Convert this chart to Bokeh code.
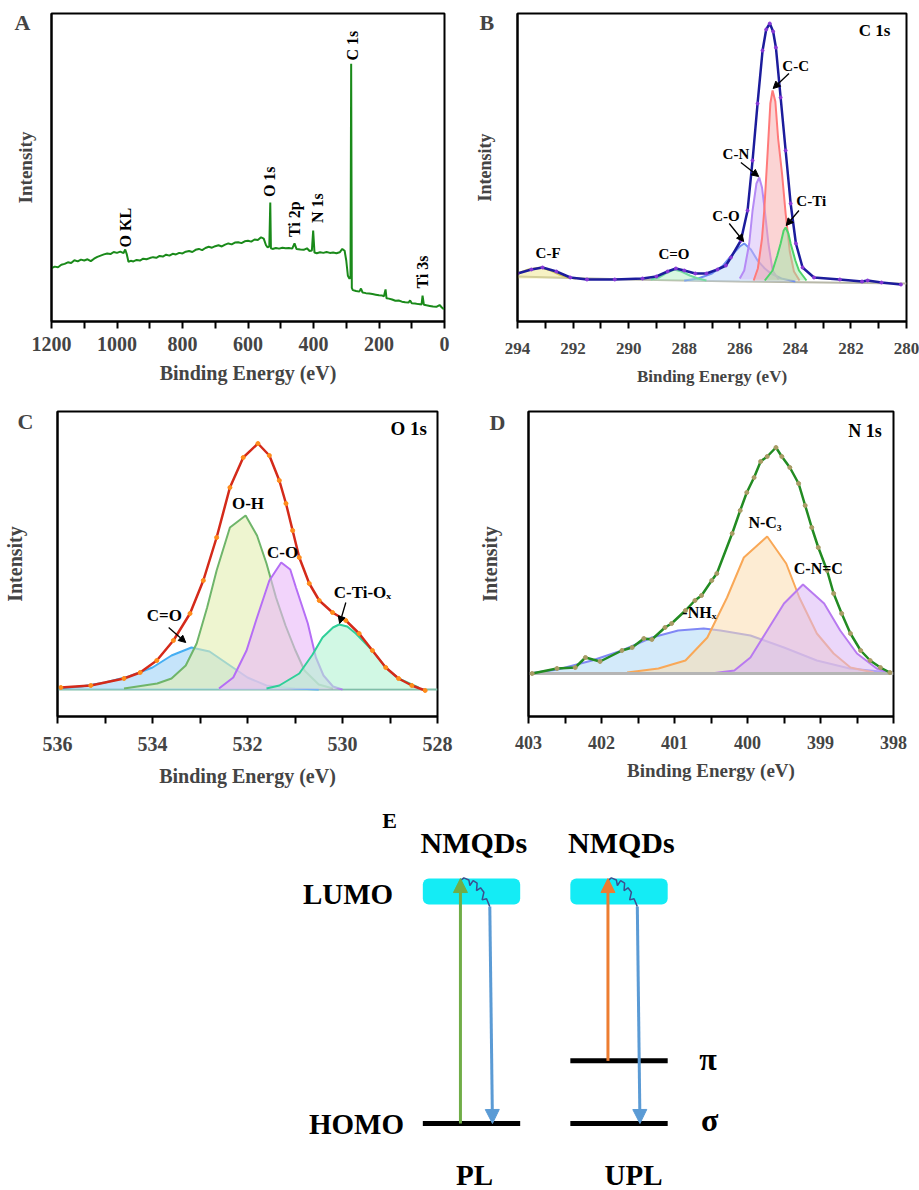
import math
from bokeh.plotting import figure
from bokeh.models import Range1d, FixedTicker, Label, Arrow, NormalHead
from bokeh.layouts import column, row
from bokeh.embed import file_html
from bokeh.resources import INLINE

FONT = "Liberation Serif"

# ---------------- Panel A : survey spectrum ----------------
A_energy = [1200, 1190, 1180, 1170, 1160, 1150, 1140, 1130, 1120, 1110, 1100, 1090, 1080, 1070, 1060,
            1050, 1040, 1030, 1020, 1010, 1000, 990, 980, 975, 970, 965, 958, 950, 940, 930, 920, 910,
            900, 890, 880, 870, 860, 850, 840, 830, 820, 810, 800, 790, 780, 770, 760, 750, 740, 730,
            720, 710, 700, 690, 680, 670, 660, 650, 640, 630, 620, 610, 600, 590, 580, 570, 560, 552,
            545, 540, 535, 532, 530, 525, 515, 505, 495, 485, 475, 465, 458, 452, 440, 430, 420, 412,
            405, 401, 397, 390, 380, 370, 360, 350, 340, 330, 320, 312, 305, 300, 295, 290, 287, 285,
            283, 280, 270, 260, 255, 250, 240, 230, 220, 210, 200, 190, 185, 180, 177, 170, 160, 150,
            140, 130, 120, 110, 105, 100, 90, 80, 70, 67, 63, 55, 45, 35, 25, 15, 8, 2]
A_intensity = [16.5, 17.0, 16.8, 17.6, 17.9, 18.4, 18.2, 19.1, 18.7, 19.3, 19.0, 19.4, 18.8, 19.6, 20.2,
               20.6, 21.0, 21.3, 21.1, 21.8, 21.5, 21.9, 21.4, 22.6, 21.0, 18.6, 18.9, 18.7, 19.2, 19.0,
               19.6, 19.4, 19.8, 20.1, 19.9, 20.5, 20.3, 20.9, 20.6, 21.2, 21.0, 21.5, 21.3, 21.9, 22.1,
               21.8, 22.5, 22.8, 22.4, 23.1, 23.5, 23.2, 23.7, 24.0, 23.6, 24.2, 24.6, 24.3, 24.9, 25.0,
               24.7, 25.3, 25.5, 25.2, 25.9, 25.7, 26.6, 26.2, 24.0, 23.3, 23.6, 38.0, 23.0, 22.8, 23.1,
               22.9, 23.2, 23.0, 23.1, 22.9, 24.6, 22.8, 22.6, 22.5, 23.0, 22.1, 22.3, 28.8, 21.6, 21.4,
               21.7, 21.5, 21.8, 21.5, 21.6, 21.4, 21.7, 22.8, 22.2, 19.0, 14.0, 13.0, 13.5, 83.5, 10.0,
               9.3, 9.0, 8.8, 9.8, 8.5, 8.3, 8.2, 8.0, 7.8, 7.6, 7.5, 7.3, 9.5, 6.6, 6.5, 6.2, 5.8, 5.9,
               5.5, 5.3, 5.2, 5.9, 5.0, 4.9, 4.7, 4.6, 7.5, 4.5, 4.3, 4.1, 3.9, 3.8, 4.4, 3.6, 3.0]
A_peak_names = ["O KL", "O 1s", "Ti 2p", "N 1s", "C 1s", "Ti 3s"]
A_peak_x = [973, 533, 458, 389, 282, 67]
A_peak_y = [23.3, 39.8, 26.7, 31.3, 84.6, 9.8]
A_ticks = [1200, 1000, 800, 600, 400, 200, 0]
A_minor = [1100, 900, 700, 500, 300, 100]

# ---------------- Panel B : C 1s ----------------
B_env_x = [294.0, 293.5, 293.1, 292.6, 292.1, 291.5, 290.5, 289.5, 289.0, 288.6, 288.3, 288.0, 287.6,
           287.2, 286.8, 286.5, 286.32, 285.96, 285.72, 285.54, 285.36, 285.18, 285.05, 284.92, 284.8,
           284.7, 284.53, 284.35, 284.17, 283.98, 283.74, 283.33, 282.4, 281.6, 281.4, 280.9, 280.2]
B_env_y = [50, 54, 56, 52, 46, 44, 44, 45, 47, 52, 55, 53, 50, 50, 54, 58, 66, 83, 113, 163, 220, 273,
           294, 300, 292, 276, 226, 173, 120, 80, 56, 46, 44, 42, 43, 41, 39]
B_base_x = [294, 290, 286, 283, 280]
B_base_y = [47, 44, 42, 41, 40]
B_CO_x = [288.0, 287.5, 287.0, 286.6, 286.3, 286.0, 285.84, 285.6, 285.36, 285.1, 284.88, 284.5, 284.0]
B_CO_y = [43, 45, 50, 58, 68, 77, 80, 74, 63, 55, 50, 45, 42]
B_CN_x = [286.0, 285.84, 285.66, 285.54, 285.4, 285.3, 285.2, 285.1, 284.97, 284.82, 284.6]
B_CN_y = [45, 53, 80, 113, 140, 146, 136, 113, 80, 53, 44]
B_CC_x = [285.5, 285.35, 285.2, 285.12, 285.0, 284.9, 284.82, 284.72, 284.62, 284.48, 284.35, 284.2,
          284.05, 283.85]
B_CC_y = [43, 55, 85, 113, 170, 220, 233, 222, 185, 150, 110, 72, 52, 43]
B_CTi_x = [285.1, 284.82, 284.65, 284.53, 284.42, 284.35, 284.25, 284.17, 284.0, 283.87, 283.6]
B_CTi_y = [43, 53, 68, 80, 93, 96, 90, 80, 63, 53, 43]
B_CdO_x = [289.2, 288.9, 288.6, 288.36, 288.1, 287.8, 287.5, 287.2]
B_CdO_y = [44, 46, 51, 54, 52, 48, 45, 43]
B_CF_x = [294.0, 293.6, 293.16, 292.8, 292.5, 292.2, 291.9]
B_CF_y = [50, 54, 56, 53, 49, 46, 45]
B_ticks = [294, 292, 290, 288, 286, 284, 282, 280]
B_minor = [293, 291, 289, 287, 285, 283, 281]

# ---------------- Panel C : O 1s ----------------
C_env_x = [535.93, 535.3, 534.6, 534.26, 533.91, 533.56, 533.21, 532.93, 532.65, 532.37, 532.09,
           531.78, 531.54, 531.33, 531.19, 531.05, 530.91, 530.7, 530.49, 530.21, 529.93, 529.65,
           529.37, 529.09, 528.82, 528.54, 528.26]
C_env_y = [30, 32, 39, 45, 57, 77, 104, 137, 180, 230, 260, 274, 262, 237, 214, 187, 160, 134, 117,
           105, 97, 84, 67, 50, 39, 32, 27]
C_CdO_x = [536.0, 535.5, 535.0, 534.5, 534.0, 533.6, 533.18, 532.8, 532.4, 532.0, 531.6, 531.0, 530.5]
C_CdO_y = [29, 31, 35, 41, 50, 62, 70, 66, 53, 40, 32, 29, 28]
C_OH_x = [534.6, 533.9, 533.6, 533.3, 533.07, 532.85, 532.65, 532.37, 532.04, 531.8, 531.6, 531.4,
          531.2, 531.0, 530.8, 530.5, 530.2]
C_OH_y = [29, 34, 39, 52, 74, 110, 147, 190, 202, 182, 154, 120, 92, 68, 47, 33, 29]
C_CO_x = [532.6, 532.3, 532.02, 531.82, 531.54, 531.29, 531.1, 530.98, 530.73, 530.56, 530.4, 530.2, 530.0]
C_CO_y = [29, 40, 67, 97, 137, 155, 148, 130, 94, 60, 42, 31, 28]
C_CTi_x = [531.6, 531.33, 530.91, 530.63, 530.42, 530.2, 530.07, 529.9, 529.72, 529.37, 529.09,
           528.82, 528.4]
C_CTi_y = [29, 32, 44, 63, 80, 90, 93, 91, 84, 67, 50, 39, 30]
C_ticks = [536, 534, 532, 530, 528]
C_minor = [535, 533, 531, 529]

# ---------------- Panel D : N 1s ----------------
D_env_x = [402.95, 402.61, 402.36, 402.22, 402.02, 401.72, 401.58, 401.42, 401.31, 401.13, 401.04,
           400.85, 400.72, 400.63, 400.49, 400.42, 400.21, 400.1, 400.01, 399.91, 399.82, 399.73,
           399.61, 399.53, 399.42, 399.3, 399.21, 399.12, 399.03, 398.91, 398.82, 398.71, 398.59,
           398.45, 398.32, 398.18, 398.05]
D_env_y = [42, 47, 48, 58, 54, 65, 68, 77, 76, 88, 92, 105, 115, 120, 135, 142, 182, 205, 223, 238,
           254, 259, 268, 259, 248, 232, 210, 188, 168, 145, 122, 102, 82, 65, 55, 48, 43]
D_NH_x = [403.0, 402.6, 402.13, 401.72, 401.31, 400.95, 400.6, 400.37, 399.96, 399.5, 399.05, 398.6, 398.05]
D_NH_y = [42, 46, 55, 65, 78, 85, 87, 85, 80, 68, 55, 47, 43]
D_NC3_x = [401.65, 401.22, 400.85, 400.55, 400.28, 400.05, 399.73, 399.47, 399.29, 399.05, 398.82,
           398.59, 398.27]
D_NC3_y = [43, 47, 55, 78, 118, 158, 179, 152, 118, 82, 62, 48, 43]
D_CNC_x = [400.5, 400.18, 399.96, 399.73, 399.5, 399.24, 398.95, 398.73, 398.5, 398.23, 398.02]
D_CNC_y = [42, 45, 58, 85, 112, 131, 112, 85, 62, 47, 42]
D_base_x = [403, 398]
D_base_y = [42, 42]
D_ticks = [403, 402, 401, 400, 399, 398]
D_minor = [402.5, 401.5, 400.5, 399.5, 398.5]

# ---------------- Panel E : energy diagram ----------------
E_columns = ["PL", "UPL"]
E_col_x = [0, 1]
E_lumo = 1.0
E_homo = 0.0
E_pi = 0.27
E_excite_from = [0.0, 0.27]
E_excite_colors = ["#70ad47", "#ed7d31"]
E_emit_color = "#5b9bd5"
E_wave_dx = [-0.075, -0.052, -0.018, -0.011, 0.011, 0.038, 0.034, 0.061, 0.084, 0.072, 0.102, 0.124]
E_wave_y = [1.047, 1.059, 1.050, 1.026, 1.047, 1.036, 1.004, 1.016, 0.997, 0.964, 0.969, 0.935]


def lbl(p, x, y, text, size, align="center", baseline="middle", angle=0.0, color="black"):
    p.add_layout(Label(x=x, y=y, text=text, text_font=FONT, text_font_style="bold",
                       text_font_size=size, text_align=align, text_baseline=baseline,
                       angle=angle, text_color=color))


def arrow(p, x0, y0, x1, y1):
    p.add_layout(Arrow(end=NormalHead(size=7, fill_color="black", line_color="black"),
                       x_start=x0, y_start=y0, x_end=x1, y_end=y1,
                       line_color="black", line_width=1.3))


def panel_letter(p, letter, offset, standoff):
    t = p.title
    t.text = letter
    t.align = "left"
    t.vertical_align = "bottom"
    t.offset = offset
    t.text_font = FONT
    t.text_font_style = "bold"
    t.text_font_size = "22px"
    try:
        t.standoff = standoff
    except Exception:
        t.standoff = 0


def xps_fig(w, h, left, right, top, bottom, xr, yr, ticks, minor, tick_fs, lab_fs, ylab_fs,
            ystand, tick_stand, xlab_stand):
    p = figure(width=w, height=h, x_range=Range1d(*xr), y_range=Range1d(*yr),
               output_backend="svg", toolbar_location=None,
               min_border_left=left, min_border_right=right,
               min_border_top=top, min_border_bottom=bottom)
    p.xgrid.visible = False
    p.ygrid.visible = False
    p.outline_line_color = "black"
    p.outline_line_width = 2
    p.outline_line_alpha = 1
    p.background_fill_color = "white"
    p.border_fill_color = "white"
    xa = p.xaxis[0]
    xa.ticker = FixedTicker(ticks=ticks, minor_ticks=minor)
    xa.axis_line_width = 2
    xa.major_tick_out = 7
    xa.major_tick_in = 0
    xa.minor_tick_out = 7
    xa.minor_tick_in = 0
    xa.major_tick_line_width = 2
    xa.minor_tick_line_width = 2
    xa.major_label_text_font = FONT
    xa.major_label_text_font_style = "bold"
    xa.major_label_text_font_size = tick_fs
    xa.major_label_standoff = tick_stand
    xa.axis_label = "Binding Energy (eV)"
    xa.axis_label_text_font = FONT
    xa.axis_label_text_font_style = "bold"
    xa.axis_label_text_font_size = lab_fs
    xa.axis_label_standoff = xlab_stand
    ya = p.yaxis[0]
    ya.ticker = FixedTicker(ticks=[])
    ya.axis_line_width = 2
    ya.major_tick_out = 0
    ya.major_tick_in = 0
    ya.minor_tick_out = 0
    ya.minor_tick_in = 0
    ya.major_label_standoff = 0
    ya.axis_label = "Intensity"
    ya.axis_label_text_font = FONT
    ya.axis_label_text_font_style = "bold"
    ya.axis_label_text_font_size = ylab_fs
    ya.axis_label_standoff = ystand
    return p


def component(p, xs, ys, fill, line, alpha=0.5):
    base = min(ys)
    p.varea(x=xs, y1=[base] * len(xs), y2=ys, fill_color=fill, fill_alpha=alpha)
    p.line(xs, ys, line_color=line, line_width=2)


# ---- A ----
pA = xps_fig(460, 390, 51, 16, 13, 69, (1200, 0), (-1, 100), A_ticks, A_minor,
             "20px", "20px", "19px", 16, 8, 8)
pA.line(A_energy, A_intensity, line_color="#1a8a1a", line_width=2)
for name, x, y in zip(A_peak_names, A_peak_x, A_peak_y):
    lbl(pA, x, y, name, "16px", align="left", baseline="middle", angle=math.pi / 2)
panel_letter(pA, "A", -37, -43)

# ---- B ----
pB = xps_fig(459, 390, 57, 13, 13, 69, (294, 280), (2, 310), B_ticks, B_minor,
             "17px", "17px", "18px", 23, 14, 10)
pB.line(B_base_x, B_base_y, line_color="#b8b8a8", line_width=2)
component(pB, B_CO_x, B_CO_y, "#bcd8f7", "#6f8ff2")
component(pB, B_CN_x, B_CN_y, "#d3b8f7", "#b58af5")
component(pB, B_CC_x, B_CC_y, "#f8aaaa", "#ff7a7a")
component(pB, B_CTi_x, B_CTi_y, "#9fe8a8", "#4fd36a")
component(pB, B_CdO_x, B_CdO_y, "#b0f0c4", "#74dca0")
component(pB, B_CF_x, B_CF_y, "#efe68a", "#d4c95a")
pB.line(B_env_x, B_env_y, line_color="#1c1c9c", line_width=2.5)
pB.scatter(B_env_x, B_env_y, size=3, color="#8a3ad8")
lbl(pB, 281.72, 293, "C 1s", "17px", align="left")
lbl(pB, 283.99, 258, "C-C", "15px")
lbl(pB, 286.14, 170, "C-N", "15px")
lbl(pB, 283.43, 123, "C-Ti", "15px")
lbl(pB, 286.5, 108, "C-O", "15px")
lbl(pB, 288.37, 70, "C=O", "15px")
lbl(pB, 292.9, 71, "C-F", "15px")
arrow(pB, 284.23, 250, 284.8, 235)
arrow(pB, 285.96, 161, 285.32, 147)
arrow(pB, 283.87, 113, 284.33, 98)
arrow(pB, 286.38, 100, 285.86, 82)
panel_letter(pB, "B", -38, -43)

# ---- C ----
pC = xps_fig(460, 405, 55, 23, 21, 79, (536, 528), (1, 306), C_ticks, C_minor,
             "20px", "20px", "20px", 32, 13, 11)
pC.line([536, 528], [28, 28], line_color="#7fbfa8", line_width=2)
component(pC, C_CdO_x, C_CdO_y, "#9fd2f7", "#45aef2", 0.6)
component(pC, C_OH_x, C_OH_y, "#e3efb0", "#6fb56a", 0.6)
component(pC, C_CO_x, C_CO_y, "#eab8f8", "#b56ef5", 0.6)
component(pC, C_CTi_x, C_CTi_y, "#b2f3d2", "#2fcf99", 0.6)
pC.line(C_env_x, C_env_y, line_color="#d42a1a", line_width=2.5)
pC.scatter(C_env_x, C_env_y, size=4, color="#ff8c1a")
lbl(pC, 528.99, 289, "O 1s", "19px", align="left")
lbl(pC, 531.99, 214, "O-H", "17px")
lbl(pC, 531.26, 165, "C-O", "17px")
lbl(pC, 529.58, 125, "C-Ti-Oₓ", "17px")
lbl(pC, 533.75, 102, "C=O", "17px")
arrow(pC, 529.93, 115, 530.06, 94)
arrow(pC, 533.66, 90, 533.3, 75)
panel_letter(pC, "C", -40, -45)

# ---- D ----
pD = xps_fig(459, 405, 68, 26, 21, 79, (403, 398), (-1, 304), D_ticks, D_minor,
             "18px", "19px", "20px", 28, 12, 8)
component(pD, D_NH_x, D_NH_y, "#b6dcf6", "#8088f5", 0.6)
component(pD, D_NC3_x, D_NC3_y, "#fbdcae", "#f9a857", 0.55)
component(pD, D_CNC_x, D_CNC_y, "#dbb6f6", "#b87af0", 0.55)
pD.line(D_base_x, D_base_y, line_color="#b5b5b5", line_width=3)
pD.line(D_env_x, D_env_y, line_color="#228b22", line_width=2.5)
pD.scatter(D_env_x, D_env_y, size=4, color="#a99c66")
lbl(pD, 398.62, 285, "N 1s", "18px", align="left")
lbl(pD, 399.76, 193, "N-C₃", "16px")
lbl(pD, 399.03, 147, "C-N=C", "16px")
lbl(pD, 400.66, 103, "-NHₓ", "16px")
panel_letter(pD, "D", -39, -46)

# ---- E ----
pE = figure(width=919, height=395, x_range=Range1d(-3.193, 3.037), y_range=Range1d(-0.2888, 1.414),
            output_backend="svg", toolbar_location=None,
            min_border_left=0, min_border_right=0, min_border_top=0, min_border_bottom=0)
pE.axis.visible = False
pE.xgrid.visible = False
pE.ygrid.visible = False
pE.outline_line_color = None
half_w = 0.33
box_h = 0.112
try:
    pE.rect(x=E_col_x, y=[E_lumo] * 2, width=2 * half_w, height=box_h,
            fill_color="#14ecf5", line_color=None, border_radius=6)
except Exception:
    pE.rect(x=E_col_x, y=[E_lumo] * 2, width=2 * half_w, height=box_h,
            fill_color="#14ecf5", line_color=None)
pE.segment(x0=[c - half_w for c in E_col_x], y0=[E_homo] * 2,
           x1=[c + half_w for c in E_col_x], y1=[E_homo] * 2, line_color="black", line_width=5)
pE.segment(x0=[E_col_x[1] - half_w], y0=[E_pi], x1=[E_col_x[1] + half_w], y1=[E_pi],
           line_color="black", line_width=5)
for c, y0, col in zip(E_col_x, E_excite_from, E_excite_colors):
    pE.add_layout(Arrow(end=NormalHead(size=14, fill_color=col, line_color=col),
                        x_start=c - 0.075, y_start=y0, x_end=c - 0.075, y_end=E_lumo + box_h / 2,
                        line_color=col, line_width=3))
    pE.add_layout(Arrow(end=NormalHead(size=14, fill_color=E_emit_color, line_color=E_emit_color),
                        x_start=c + 0.124, y_start=E_wave_y[-1], x_end=c + 0.142, y_end=E_homo,
                        line_color=E_emit_color, line_width=3))
    pE.line([c + d for d in E_wave_dx], E_wave_y, line_color="#3d4f8f", line_width=1.5)
for c, name in zip(E_col_x, E_columns):
    lbl(pE, c + 0.016, 1.211, "NMQDs", "30px")
lbl(pE, E_col_x[0] + 0.02, -0.22, E_columns[0], "29px")
lbl(pE, E_col_x[1] + 0.098, -0.22, E_columns[1], "29px")
lbl(pE, -0.837, E_lumo - 0.009, "LUMO", "29px")
lbl(pE, -0.78, E_homo, "HOMO", "29px")
lbl(pE, 1.603, E_pi + 0.01, "π", "32px")
lbl(pE, 1.614, E_homo + 0.013, "σ", "32px")
lbl(pE, -0.556, 1.306, "E", "22px")

layout = column(row(pA, pB), row(pC, pD), pE)
open("out.html", "w").write(file_html(layout, INLINE))
